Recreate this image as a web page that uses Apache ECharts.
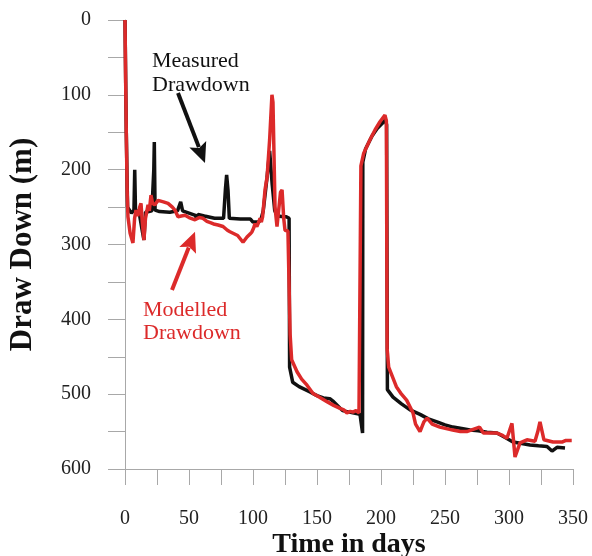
<!DOCTYPE html>
<html><head><meta charset="utf-8">
<script src="https://cdn.jsdelivr.net/npm/echarts@6/dist/echarts.min.js"></script>
<style>html,body{margin:0;padding:0;background:#fff}#c{width:592px;height:556px}</style>
</head><body><div id="c"></div>
<script>
// ---- data ----
const measuredDays = [0,1,2,5,7,7.6,8.2,11,13.5,14.8,16,21,22.5,22.9,23.5,27,35,41,43.5,45,50,55,56,57,62,70,77,78.5,79.4,80.5,81.5,90,98,100,104,106,108,111,113,115,117,119,124,126,128.2,128.6,131,136,144.5,150,155,160,163,170,178,183.6,185.6,185.8,188,193,197,201,203.5,204.4,205,209.4,216,222.7,230.5,237,243.75,250,256.25,263,269.5,276,282.8,290.6,297,303.1,310,316.4,323,329.7,333.6,337.5,343.75];
const measuredDrawdown = [0,150,250,258,254,200,254,257,282,294,257,255,200,163,254,256,257,255,243,255,258,261,266,260,262,265,265,225,207,228,265,266,266,270,270,268,255,210,175,220,255,262,263,263,265,464,484,490,497,502,505,506,510,522,525,527,552,190,172,155,145,138,133,140,494,504,513,521,527,533,537,541,544,546,548,549,551,552,558,564,566,568,569,570,576,571,572];
const modelledDays = [0,0.5,1,1.7,2.3,4,6.2,7.5,8.6,10,11.5,12.5,13.5,14.8,16,18,19,20.3,21.5,23.2,25.8,30,33.6,37,39,41.4,44,46.9,50,54.7,58,60.9,64,67.2,70,72.7,76.6,80,82,84.4,88,92.2,95.3,97.7,99.2,100.5,101.6,103,104.5,105.5,106.5,107.5,109.4,111,113,114.8,115.6,117.2,118.75,120,121.5,122.7,124,125,127.3,128.1,129,130.2,134.4,138,142.2,146.9,152,157.8,163,168,171,173.4,176,178,180.5,182.8,183.6,184.3,186.5,191.4,195.3,199.2,203.1,204.2,204.8,206,212,216,220,225,227,230.5,233.5,236,240,246,251,256,262,267,272,277,280,286,290.6,295,298.4,302.3,304.7,308.6,314,320.3,322.5,324.2,327.3,334.4,341.4,344,349];
const modelledDrawdown = [0,80,150,230,263,285,298,265,254,262,250,245,270,294,265,247,255,234,245,247,241,243,245,250,254,263,262,261,264,267,264,265,269,271,273,274,276,281,283,285,288,297,290,286,283,278,272,276,270,265,270,263,227,210,160,100,110,250,276,255,230,227,265,281,282,282,420,454,470,480,488,499,504,510,515,519,521,525,523,524,522,525,525,195,178,160,147,136,127,135,440,464,490,500,508,525,540,550,537,532,540,544,546,548,550,550,547,544,552,552,552,555,559,539,584,565,561,563,550,537,561,564,564,562,562];
const xTicks = [0,50,100,150,200,250,300,350];
const yTicks = [0,100,200,300,400,500,600];
const seriesNames = ['Measured Drawdown','Modelled Drawdown'];
// annotations in data coordinates [day, drawdown]
const measuredLabelAt = [21.1, 70.8];
const modelledLabelAt = [14.1, 403.6];
const measuredArrow = [[41.4, 97.6],[62.5, 191.1]];
const modelledArrow = [[36.7, 360.8],[54.7, 283]];

const pair = (xs, ys) => xs.map((x,i)=>[x, ys[i]]);
const FONT = 'Liberation Serif';
const RED = '#dc2a2a';
const BLACK = '#111111';

const chart = echarts.init(document.getElementById('c'), null, {renderer:'canvas'});
const axisColor = '#a8a8a8';
chart.setOption({
  animation:false,
  backgroundColor:'#fff',
  grid:{left:125, right:19, top:20, bottom:87, containLabel:false, outerBoundsMode:'none'},
  xAxis:{
    type:'value', min:0, max:350, interval:25, position:'bottom',
    name:'Time in days', nameLocation:'middle', nameGap:62, nameMoveOverlap:false,
    nameTextStyle:{fontFamily:FONT, fontWeight:'bold', fontSize:28, color:'#111'},
    axisLine:{show:true, onZero:false, lineStyle:{color:axisColor, width:1}},
    axisTick:{show:true, inside:false, length:16, lineStyle:{color:axisColor}},
    axisLabel:{margin:40, fontFamily:FONT, fontSize:20, color:'#222',
      formatter:v => xTicks.includes(v) ? String(v) : ''},
    splitLine:{show:false}
  },
  yAxis:{
    type:'value', min:0, max:600, interval:50, inverse:true,
    name:'Draw Down (m)', nameLocation:'middle', nameGap:87, nameMoveOverlap:false,
    nameTextStyle:{fontFamily:FONT, fontWeight:'bold', fontSize:31, color:'#111'},
    axisLine:{show:true, onZero:false, lineStyle:{color:axisColor, width:1}},
    axisTick:{show:true, inside:false, length:17, lineStyle:{color:axisColor}},
    axisLabel:{margin:34, fontFamily:FONT, fontSize:20, color:'#222',
      formatter:v => yTicks.includes(v) ? String(v) : ''},
    splitLine:{show:false}
  },
  series:[
    {name:seriesNames[0], type:'line', data:pair(measuredDays, measuredDrawdown), showSymbol:false, symbol:'none',
     lineStyle:{color:BLACK, width:3.5}, z:2},
    {name:seriesNames[1], type:'line', data:pair(modelledDays, modelledDrawdown), showSymbol:false, symbol:'none',
     lineStyle:{color:RED, width:3.5}, z:3}
  ]
});

function px(p){ return chart.convertToPixel({gridIndex:0}, p); }
function arrow(a, color){
  const s = px(a[0]), t = px(a[1]);
  const dx = t[0]-s[0], dy = t[1]-s[1], L = Math.hypot(dx,dy);
  const ux = dx/L, uy = dy/L, nx = -uy, ny = ux;
  const hl = 20, hw = 9;
  const bx = t[0]-ux*hl, by = t[1]-uy*hl;
  return [
    {type:'line', shape:{x1:s[0], y1:s[1], x2:bx+ux*3, y2:by+uy*3}, style:{stroke:color, lineWidth:4}, z:10},
    {type:'polygon', shape:{points:[[t[0],t[1]],[bx+nx*hw, by+ny*hw],[bx+ux*4, by+uy*4],[bx-nx*hw, by-ny*hw]]}, style:{fill:color}, z:10}
  ];
}
const m = px(measuredLabelAt), r = px(modelledLabelAt);
chart.setOption({graphic:[
  {type:'text', x:m[0], y:m[1], style:{text:'Measured\nDrawdown', fill:'#111', font:'22px "Liberation Serif"', lineHeight:24, align:'left', verticalAlign:'middle'}, z:10},
  {type:'text', x:r[0], y:r[1], style:{text:'Modelled\nDrawdown', fill:RED, font:'22px "Liberation Serif"', lineHeight:23, align:'left', verticalAlign:'middle'}, z:10},
  ...arrow(measuredArrow, '#111'),
  ...arrow(modelledArrow, RED)
]});
</script></body></html>
